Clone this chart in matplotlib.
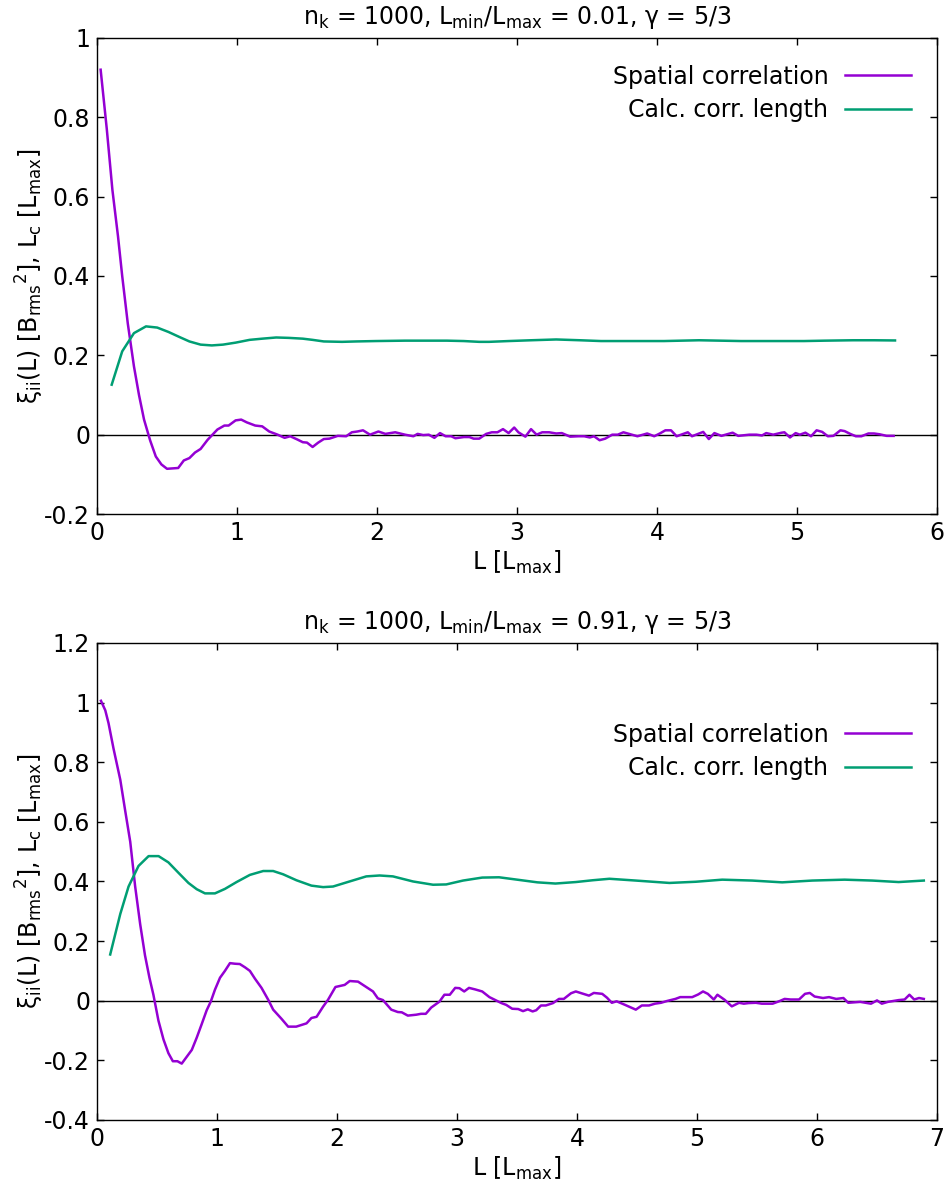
import numpy as np
import matplotlib
matplotlib.use("Agg")
import matplotlib.pyplot as plt

# ---- top panel: Lmin/Lmax = 0.01 ----
top_corr_L = [0.026, 0.07, 0.11, 0.15, 0.18, 0.22, 0.264, 0.30, 0.336, 0.38,
              0.42, 0.46, 0.50, 0.54, 0.58, 0.62, 0.66, 0.70, 0.74, 0.79,
              0.82, 0.86, 0.91, 0.94, 0.99, 1.03, 1.07, 1.13, 1.18, 1.23,
              1.29, 1.34, 1.38, 1.43, 1.47, 1.50, 1.54, 1.58, 1.62, 1.66,
              1.72, 1.78, 1.82, 1.86, 1.90, 1.95, 2.01, 2.06, 2.13, 2.20,
              2.26, 2.29, 2.33, 2.37, 2.41, 2.45, 2.49, 2.53, 2.56, 2.62,
              2.66, 2.69, 2.73, 2.78, 2.82, 2.86, 2.90, 2.94, 2.98, 3.01,
              3.06, 3.10, 3.14, 3.18, 3.23, 3.28, 3.32, 3.38, 3.44, 3.48,
              3.52, 3.55, 3.59, 3.63, 3.68, 3.72, 3.76, 3.80, 3.86, 3.93,
              3.98, 4.02, 4.06, 4.10, 4.14, 4.22, 4.25, 4.33, 4.37, 4.41,
              4.46, 4.54, 4.58, 4.66, 4.71, 4.75, 4.78, 4.83, 4.89, 4.91,
              4.95, 4.99, 5.02, 5.06, 5.10, 5.14, 5.18, 5.22, 5.26, 5.31,
              5.34, 5.38, 5.42, 5.46, 5.51, 5.55, 5.59, 5.64, 5.69]
top_corr = [0.92, 0.77, 0.617, 0.50, 0.40, 0.28, 0.172, 0.10, 0.038, -0.015,
            -0.055, -0.075, -0.086, -0.085, -0.084, -0.065, -0.059, -0.045, -0.036, -0.013,
            -0.002, 0.013, 0.023, 0.023, 0.036, 0.038, 0.031, 0.023, 0.021, 0.008,
            0.0, -0.008, -0.004, -0.012, -0.019, -0.02, -0.031, -0.02, -0.011, -0.01,
            -0.003, -0.004, 0.006, 0.008, 0.011, 0.0, 0.008, 0.002, 0.006, 0.0,
            -0.004, 0.002, -0.001, 0.0, -0.008, 0.004, -0.004, -0.004, -0.009, -0.006,
            -0.006, -0.01, -0.01, 0.002, 0.006, 0.006, 0.014, 0.004, 0.018, 0.006,
            -0.005, 0.014, 0.0, 0.006, 0.006, 0.003, 0.004, -0.005, -0.004, -0.004,
            -0.007, -0.004, -0.014, -0.01, 0.0, 0.0, 0.006, 0.002, -0.004, 0.003,
            -0.004, 0.003, 0.011, 0.011, -0.004, 0.006, -0.004, 0.007, -0.011, 0.004,
            -0.003, 0.005, -0.003, 0.0, 0.0, -0.002, 0.004, 0.0, 0.005, 0.006,
            -0.007, 0.004, 0.0, 0.005, -0.004, 0.011, 0.007, -0.004, -0.003, 0.011,
            0.009, 0.002, -0.004, -0.004, 0.003, 0.003, 0.001, -0.003, -0.003]

top_len_L = [0.105, 0.18, 0.264, 0.35, 0.43, 0.51, 0.59, 0.66, 0.74, 0.82,
             0.90, 0.99, 1.09, 1.18, 1.28, 1.37, 1.47, 1.54, 1.62, 1.75,
             1.85, 1.99, 2.2, 2.5, 2.62, 2.73, 2.8, 2.94, 3.1, 3.28,
             3.45, 3.6, 3.85, 4.05, 4.3, 4.6, 4.9, 5.05, 5.2, 5.4,
             5.55, 5.70]
top_len = [0.126, 0.21, 0.256, 0.273, 0.27, 0.259, 0.246, 0.235, 0.227, 0.225,
           0.227, 0.232, 0.239, 0.242, 0.245, 0.244, 0.242, 0.239, 0.235, 0.234,
           0.235, 0.236, 0.237, 0.237, 0.236, 0.234, 0.234, 0.236, 0.238, 0.240,
           0.238, 0.236, 0.236, 0.236, 0.238, 0.236, 0.236, 0.236, 0.237, 0.238,
           0.238, 0.2375]

# ---- bottom panel: Lmin/Lmax = 0.91 ----
bot_corr_L = [0.033, 0.069, 0.096, 0.138, 0.194, 0.235, 0.277, 0.318, 0.36, 0.40,
              0.437, 0.47, 0.512, 0.554, 0.595, 0.632, 0.67, 0.706, 0.748, 0.79,
              0.831, 0.873, 0.914, 0.948, 0.983, 1.025, 1.066, 1.108, 1.15, 1.19,
              1.233, 1.274, 1.316, 1.371, 1.427, 1.468, 1.538, 1.593, 1.66, 1.746,
              1.787, 1.83, 1.884, 1.925, 1.987, 2.064, 2.106, 2.175, 2.244, 2.30,
              2.34, 2.383, 2.452, 2.507, 2.54, 2.59, 2.66, 2.70, 2.74, 2.785,
              2.854, 2.895, 2.94, 2.985, 3.02, 3.06, 3.10, 3.15, 3.21, 3.27,
              3.31, 3.37, 3.41, 3.46, 3.51, 3.55, 3.59, 3.63, 3.66, 3.70,
              3.74, 3.80, 3.85, 3.89, 3.95, 3.99, 4.10, 4.14, 4.21, 4.25,
              4.29, 4.33, 4.40, 4.49, 4.54, 4.60, 4.65, 4.70, 4.75, 4.82,
              4.86, 4.96, 5.01, 5.05, 5.09, 5.14, 5.17, 5.23, 5.29, 5.35,
              5.39, 5.43, 5.49, 5.54, 5.63, 5.69, 5.73, 5.78, 5.85, 5.90,
              5.94, 5.98, 6.05, 6.10, 6.16, 6.22, 6.26, 6.36, 6.45, 6.50,
              6.54, 6.59, 6.68, 6.73, 6.77, 6.81, 6.85, 6.89]
bot_corr = [1.006, 0.974, 0.931, 0.845, 0.741, 0.637, 0.533, 0.383, 0.256, 0.152,
            0.077, 0.020, -0.067, -0.130, -0.176, -0.203, -0.203, -0.211, -0.188, -0.165,
            -0.124, -0.078, -0.032, -0.003, 0.037, 0.077, 0.10, 0.126, 0.124, 0.123,
            0.112, 0.10, 0.074, 0.043, 0.003, -0.03, -0.061, -0.087, -0.087, -0.076,
            -0.058, -0.054, -0.02, 0.003, 0.046, 0.053, 0.066, 0.064, 0.046, 0.031,
            0.008, 0.002, -0.03, -0.038, -0.039, -0.05, -0.047, -0.044, -0.044, -0.023,
            -0.003, 0.02, 0.02, 0.043, 0.042, 0.031, 0.043, 0.038, 0.031, 0.012,
            0.004, -0.008, -0.014, -0.027, -0.028, -0.035, -0.029, -0.036, -0.032, -0.016,
            -0.016, -0.008, 0.006, 0.006, 0.025, 0.031, 0.017, 0.026, 0.023, 0.010,
            -0.007, -0.002, -0.014, -0.030, -0.016, -0.016, -0.010, -0.007, -0.001, 0.006,
            0.012, 0.012, 0.021, 0.031, 0.023, 0.004, 0.020, 0.003, -0.019, -0.007,
            -0.010, -0.008, -0.007, -0.010, -0.010, -0.001, 0.006, 0.004, 0.004, 0.023,
            0.026, 0.014, 0.009, 0.012, 0.006, 0.009, -0.007, -0.004, -0.010, 0.001,
            -0.010, -0.004, 0.002, 0.004, 0.020, 0.004, 0.009, 0.006]

bot_len_L = [0.11, 0.194, 0.263, 0.346, 0.43, 0.513, 0.595, 0.679, 0.762, 0.831,
             0.9, 0.983, 1.066, 1.163, 1.274, 1.385, 1.468, 1.551, 1.662, 1.787,
             1.884, 1.967, 2.105, 2.244, 2.355, 2.466, 2.633, 2.8, 2.91, 3.05,
             3.21, 3.35, 3.52, 3.67, 3.82, 3.99, 4.13, 4.27, 4.49, 4.77,
             4.99, 5.21, 5.46, 5.71, 5.96, 6.23, 6.46, 6.68, 6.89]
bot_len = [0.155, 0.291, 0.383, 0.452, 0.485, 0.485, 0.464, 0.429, 0.395, 0.374,
           0.36, 0.36, 0.375, 0.398, 0.422, 0.435, 0.435, 0.424, 0.404, 0.386,
           0.381, 0.383, 0.40, 0.417, 0.42, 0.417, 0.40, 0.389, 0.39, 0.403,
           0.413, 0.414, 0.405, 0.397, 0.393, 0.398, 0.404, 0.409, 0.403, 0.395,
           0.399, 0.406, 0.403, 0.397, 0.403, 0.406, 0.403, 0.398, 0.403]

titles = [r"n$_{\rm k}$ = 1000, L$_{\rm min}$/L$_{\rm max}$ = 0.01, γ = 5/3",
          r"n$_{\rm k}$ = 1000, L$_{\rm min}$/L$_{\rm max}$ = 0.91, γ = 5/3"]
ylabel = r"ξ$_{\rm ii}$(L) [B$_{\rm rms}$$^{2}$], L$_{\rm c}$ [L$_{\rm max}$]"
xlabel = r"L [L$_{\rm max}$]"

PURPLE = "#9400d3"
GREEN = "#009e73"
FS = 17

plt.rcParams["font.family"] = ["DejaVu Sans"]
plt.rcParams["mathtext.default"] = "regular"

fig = plt.figure(figsize=(9.51, 11.83), dpi=100)
ax1 = fig.add_axes([0.102, 0.5655, 0.8833, 0.4024])
ax2 = fig.add_axes([0.102, 0.0533, 0.8833, 0.4032])

panels = [
    (ax1, top_corr_L, top_corr, top_len_L, top_len, (0, 6), (-0.2, 1.0),
     np.arange(-0.2, 1.01, 0.2), 0.944),
    (ax2, bot_corr_L, bot_corr, bot_len_L, bot_len, (0, 7), (-0.4, 1.2),
     np.arange(-0.4, 1.21, 0.2), 0.833),
]

for i, (ax, xc, yc, xl, yl, xlim, ylim, yt, leg_y) in enumerate(panels):
    ax.axhline(0, color="black", lw=1.0, zorder=1)
    ax.plot(xc, yc, color=PURPLE, lw=1.8, label="Spatial correlation", zorder=3)
    ax.plot(xl, yl, color=GREEN, lw=1.8, label="Calc. corr. length", zorder=3)
    ax.set_xlim(*xlim)
    ax.set_ylim(*ylim)
    ax.set_xticks(np.arange(xlim[0], xlim[1] + 1))
    ax.set_yticks(yt)
    ax.set_yticklabels(["%g" % round(v, 1) for v in yt])
    ax.tick_params(direction="in", top=True, right=True, length=5, width=1,
                   labelsize=FS, pad=5)
    for s in ax.spines.values():
        s.set_linewidth(1.0)
    ax.set_title(titles[i], fontsize=FS, pad=10)
    ax.set_xlabel(xlabel, fontsize=FS, labelpad=3)
    ax.set_ylabel(ylabel, fontsize=FS, labelpad=-1)
    ax.legend(loc="upper right", frameon=False, markerfirst=False, fontsize=FS,
              handlelength=2.8, handletextpad=0.7, labelspacing=0.4,
              borderpad=0, borderaxespad=0,
              bbox_to_anchor=(0.969, leg_y))

fig.savefig("out.png", dpi=100)
